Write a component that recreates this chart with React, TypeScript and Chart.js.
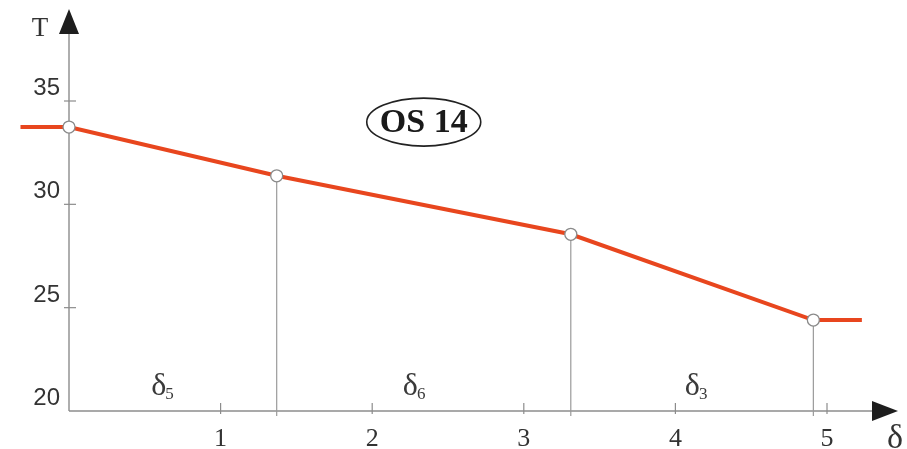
import React, { useEffect, useRef } from "react";
import { Chart, registerables } from "chart.js";

Chart.register(...registerables);

// Breakpoints of the temperature profile (δ position, temperature T)
const BREAK_X = [0, 1.37, 3.31, 4.91];
const BREAK_T = [33.74, 31.38, 28.55, 24.4];
// Flat extensions beyond the first and last breakpoint
const LEFT_END_X = -0.32;
const RIGHT_END_X = 5.23;

const X_TICKS = [1, 2, 3, 4, 5];
const Y_TICKS = [20, 25, 30, 35];

// Layer labels δ_n
const LAYER_SUB = ["5", "6", "3"];
const LAYER_X = [0.62, 2.28, 4.14];
const LAYER_T = 20.77;

const TITLE = "OS 14";
const TITLE_X = 2.34;
const TITLE_T = 33.98;

const X_MIN = -0.4;
const X_MAX = 5.4;
const Y_MIN = 19;
const Y_MAX = 39;

const SERIF = "'Liberation Serif', 'Times New Roman', serif";

export default function App() {
  const ref = useRef<HTMLCanvasElement | null>(null);

  useEffect(() => {
    if (!ref.current) return;
    const lineX = [LEFT_END_X, ...BREAK_X, RIGHT_END_X];
    const lineT = [BREAK_T[0], ...BREAK_T, BREAK_T[BREAK_T.length - 1]];
    const data = lineX.map((x, i) => ({ x, y: lineT[i] }));
    const radii = lineX.map((_, i) => (i === 0 || i === lineX.length - 1 ? 0 : 6));

    const axesPlugin = {
      id: "axesPlugin",
      beforeDatasetsDraw(chart: any) {
        const { ctx } = chart;
        const xs = chart.scales.x;
        const ys = chart.scales.y;
        const ox = xs.getPixelForValue(0);
        const oy = ys.getPixelForValue(20);
        ctx.save();
        ctx.strokeStyle = "#8c8c8c";
        ctx.lineWidth = 1.4;
        ctx.beginPath();
        ctx.moveTo(ox, oy);
        ctx.lineTo(ox, 32);
        ctx.stroke();
        ctx.beginPath();
        ctx.moveTo(ox, oy);
        ctx.lineTo(874, oy);
        ctx.stroke();
        ctx.lineWidth = 1.2;
        X_TICKS.forEach((t) => {
          const px = xs.getPixelForValue(t);
          ctx.beginPath();
          ctx.moveTo(px, oy - 8);
          ctx.lineTo(px, oy + 3);
          ctx.stroke();
        });
        Y_TICKS.forEach((t) => {
          if (t === 20) return;
          const py = ys.getPixelForValue(t);
          ctx.beginPath();
          ctx.moveTo(ox - 5, py);
          ctx.lineTo(ox + 7, py);
          ctx.stroke();
        });
        ctx.strokeStyle = "#9a9a9a";
        ctx.lineWidth = 1.2;
        BREAK_X.forEach((x, i) => {
          if (i === 0) return;
          const px = xs.getPixelForValue(x);
          const py = ys.getPixelForValue(BREAK_T[i]);
          ctx.beginPath();
          ctx.moveTo(px, py);
          ctx.lineTo(px, oy + 5);
          ctx.stroke();
        });
        ctx.fillStyle = "#1e1e1e";
        ctx.beginPath();
        ctx.moveTo(ox, 9);
        ctx.lineTo(ox - 10, 34);
        ctx.lineTo(ox + 10, 34);
        ctx.closePath();
        ctx.fill();
        ctx.beginPath();
        ctx.moveTo(898, oy);
        ctx.lineTo(872, oy - 10);
        ctx.lineTo(872, oy + 10);
        ctx.closePath();
        ctx.fill();
        ctx.restore();
      },
      afterDatasetsDraw(chart: any) {
        const { ctx } = chart;
        const xs = chart.scales.x;
        const ys = chart.scales.y;
        const ox = xs.getPixelForValue(0);
        const oy = ys.getPixelForValue(20);
        ctx.save();
        ctx.fillStyle = "#333333";
        ctx.font = "24px 'Liberation Sans', Arial, sans-serif";
        ctx.textAlign = "right";
        ctx.textBaseline = "middle";
        Y_TICKS.forEach((t) => {
          ctx.fillText(String(t), ox - 9, ys.getPixelForValue(t) - 12.5);
        });
        ctx.font = "26px " + SERIF;
        ctx.textAlign = "center";
        ctx.textBaseline = "alphabetic";
        X_TICKS.forEach((t) => {
          ctx.fillText(String(t), xs.getPixelForValue(t), oy + 35);
        });
        ctx.font = "27px " + SERIF;
        ctx.fillText("T", 40, 36);
        ctx.font = "34px " + SERIF;
        ctx.fillText("δ", 895, 448);
        ctx.fillStyle = "#3a3a3a";
        LAYER_SUB.forEach((s, i) => {
          const cx = xs.getPixelForValue(LAYER_X[i]);
          const by = ys.getPixelForValue(LAYER_T);
          ctx.font = "32px " + SERIF;
          const w1 = ctx.measureText("δ").width;
          ctx.font = "17px " + SERIF;
          const w2 = ctx.measureText(s).width;
          const left = cx - (w1 + w2) / 2;
          ctx.textAlign = "left";
          ctx.font = "32px " + SERIF;
          ctx.fillText("δ", left, by);
          ctx.font = "17px " + SERIF;
          ctx.fillText(s, left + w1 - 1, by + 4);
        });
        const tx = xs.getPixelForValue(TITLE_X);
        const ty = ys.getPixelForValue(TITLE_T);
        ctx.strokeStyle = "#222222";
        ctx.lineWidth = 1.6;
        ctx.beginPath();
        ctx.ellipse(tx, ty, 57, 24, 0, 0, Math.PI * 2);
        ctx.stroke();
        ctx.fillStyle = "#1a1a1a";
        ctx.font = "bold 34px " + SERIF;
        ctx.textAlign = "center";
        ctx.textBaseline = "middle";
        ctx.fillText(TITLE, tx, ty + 1);
        ctx.restore();
      },
    };

    const chart = new Chart(ref.current, {
      type: "line",
      data: {
        datasets: [
          {
            data,
            borderColor: "#e8461e",
            borderWidth: 4,
            tension: 0,
            pointRadius: radii,
            pointBackgroundColor: "#ffffff",
            pointBorderColor: "#8a8a8a",
            pointBorderWidth: 1.3,
            fill: false,
            clip: false as any,
          },
        ],
      },
      options: {
        responsive: false,
        animation: false,
        devicePixelRatio: 1,
        layout: { padding: { left: 8.36, right: 19.36, top: 18.33, bottom: 17.33 } },
        scales: {
          x: { type: "linear", min: X_MIN, max: X_MAX, display: false },
          y: { type: "linear", min: Y_MIN, max: Y_MAX, display: false },
        },
        plugins: { legend: { display: false }, tooltip: { enabled: false } },
        events: [],
      },
      plugins: [axesPlugin],
    });
    return () => chart.destroy();
  }, []);

  return (
    <div style={{ position: "absolute", left: 0, top: 0, width: 907, height: 449, background: "#fff" }}>
      <canvas ref={ref} width={907} height={449} style={{ display: "block" }} />
    </div>
  );
}
